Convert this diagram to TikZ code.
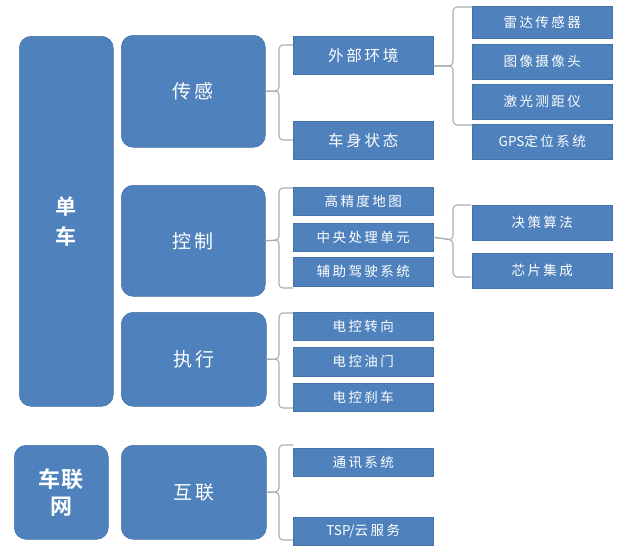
\documentclass[tikz,border=0pt]{standalone}
\usepackage{fontspec}
\newfontfamily\cjk[LetterSpace=18]{Noto Sans CJK SC}
\newfontfamily\cjkplain{Noto Sans CJK SC}
\newfontfamily\cjkb[LetterSpace=6]{Noto Sans CJK SC Bold}
\begin{document}
\begin{tikzpicture}[x=1pt,y=-1pt,
  bigbox/.style={fill=boxblue, draw=boxedge, line width=0.6pt, rounded corners=12pt, text=white, inner sep=0pt, anchor=north west},
  smallbox/.style={fill=boxblue, draw=boxedge, line width=0.5pt, text=white, inner sep=0pt, anchor=north west, minimum width=140pt, font=\cjk\fontsize{13.5}{15}\selectfont},
  tallbox/.style={smallbox, font=\cjk\fontsize{15.5}{17}\selectfont},
  br/.style={draw=bracegray, line width=1.1pt, rounded corners=4pt}
]
\definecolor{boxblue}{HTML}{4F81BD}
\definecolor{boxedge}{HTML}{4572A8}
\definecolor{bracegray}{HTML}{A8ADB4}
\useasboundingbox (0,0) rectangle (626,557);

% big boxes
\node[bigbox, minimum width=94pt, minimum height=370pt, font=\cjkb\fontsize{21}{30}\selectfont, align=center] (dan) at (19,36) {单\\车};
\node[bigbox, minimum width=144pt, minimum height=112pt, font=\cjk\fontsize{19}{22}\selectfont] (gan) at (121,35) {传感};
\node[bigbox, minimum width=144pt, minimum height=111pt, font=\cjk\fontsize{19}{22}\selectfont] (kong) at (121,185) {控制};
\node[bigbox, minimum width=145pt, minimum height=94pt, font=\cjk\fontsize{19}{22}\selectfont] (zhi) at (121,312) {执行};
\node[bigbox, minimum width=94pt, minimum height=94pt, font=\cjkb\fontsize{22}{27}\selectfont, align=center] (clw) at (14,445) {车联\\网};
\node[bigbox, minimum width=145pt, minimum height=94pt, font=\cjk\fontsize{19}{22}\selectfont] (hl) at (121,445) {互联};

% middle column
\node[tallbox, minimum height=38pt] (wb) at (293,36) {外部环境};
\node[tallbox, minimum height=38pt] (cs) at (293,121) {车身状态};
\node[smallbox, minimum height=28pt] (gj) at (293,187) {高精度地图};
\node[smallbox, minimum height=28pt] (zy) at (293,223) {中央处理单元};
\node[smallbox, minimum height=29pt] (fz) at (293,257) {辅助驾驶系统};
\node[smallbox, minimum height=28pt] (zx) at (293,312) {电控转向};
\node[smallbox, minimum height=29pt] (ym) at (293,347) {电控油门};
\node[smallbox, minimum height=28pt] (sc) at (293,383) {电控刹车};
\node[smallbox, minimum height=28pt] (tx) at (293,448) {通讯系统};
\node[smallbox, minimum height=28pt] (tsp) at (293,517) {{\cjkplain TSP/}云服务};

% right column
\node[smallbox, minimum height=32pt] (ld) at (472,6) {雷达传感器};
\node[smallbox, minimum height=35pt] (tu) at (472,44) {图像摄像头};
\node[smallbox, minimum height=35pt] (jg) at (472,84) {激光测距仪};
\node[smallbox, minimum height=35pt] (gps) at (472,124) {{\cjkplain GPS}定位系统};
\node[smallbox, minimum height=35pt] (jc) at (472,205) {决策算法};
\node[smallbox, minimum height=35pt] (xp) at (472,253) {芯片集成};

% brace end coordinates
\coordinate (b1t) at (293,45);  \coordinate (b1b) at (293,140);
\coordinate (b2t) at (472,7);   \coordinate (b2b) at (472,125);
\coordinate (b3t) at (293,188); \coordinate (b3b) at (293,288);
\coordinate (b4t) at (471,205); \coordinate (b4b) at (471,277);
\coordinate (b5t) at (293,313); \coordinate (b5b) at (293,408);
\coordinate (b6t) at (293,445); \coordinate (b6b) at (293,540);

% braces: parent -> tip -> spine -> hooks
\draw[br] (gan.east) -- (279,91) -- (279,45) -- (b1t);
\draw[br] (gan.east) -- (279,91) -- (279,140) -- (b1b);
\draw[br] (wb.east |- 0,66) -- (453,66) -- (453,7) -- (b2t);
\draw[br] (wb.east |- 0,66) -- (453,66) -- (453,125) -- (b2b);
\draw[br] (kong.east) -- (279,240) -- (279,188) -- (b3t);
\draw[br] (kong.east) -- (279,240) -- (279,288) -- (b3b);
\draw[br] (zy.east) -- (453,240) -- (453,205) -- (b4t);
\draw[br] (zy.east) -- (453,240) -- (453,277) -- (b4b);
\draw[br] (zhi.east) -- (279,359) -- (279,313) -- (b5t);
\draw[br] (zhi.east) -- (279,359) -- (279,408) -- (b5b);
\draw[br] (hl.east) -- (279,492) -- (279,445) -- (b6t);
\draw[br] (hl.east) -- (279,492) -- (279,540) -- (b6b);
\end{tikzpicture}
\end{document}
